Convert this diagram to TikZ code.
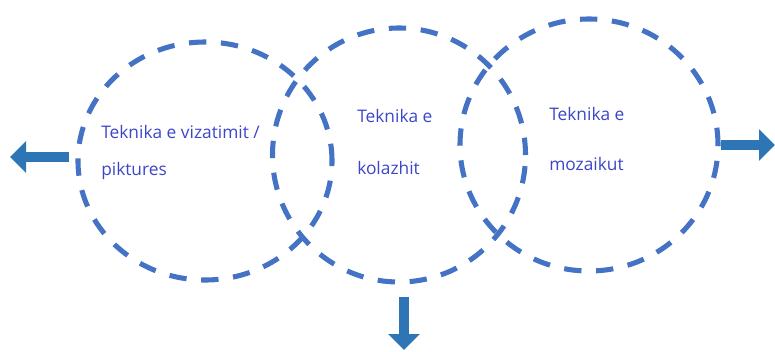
\documentclass[tikz,border=0pt]{standalone}
\usepackage{fontspec}
\setmainfont{Open Sans}
\usetikzlibrary{shapes.geometric,arrows.meta}
\definecolor{ringblue}{RGB}{68,114,196}
\definecolor{arrowblue}{RGB}{46,117,182}
\definecolor{textblue}{RGB}{60,70,200}
\begin{document}
\begin{tikzpicture}[x=0.75pt,y=-0.75pt,line join=round,
	ring/.style={ellipse,draw=ringblue,line width=3.8pt,dash pattern=on 13pt off 11pt,inner sep=0pt},
	lbl/.style={anchor=base west,inner sep=0pt,text=textblue,font=\fontsize{13}{15}\selectfont},
	bigarrow/.style={draw=arrowblue,line width=7.5pt,-{Triangle[width=23pt,length=12pt]}}]
			\useasboundingbox (0,0) rectangle (775,351);
			\node[ring,minimum width=190.5pt,minimum height=178.5pt] (vizatim) at (205,161) {};
			\node[ring,minimum width=189.75pt,minimum height=190.5pt] (kolazh) at (399,155) {};
			\node[ring,minimum width=193.5pt,minimum height=189pt] (mozaik) at (589,145) {};
			\node[lbl] (t1a) at (101,138) {Teknika e vizatimit /};
			\node[lbl] (t1b) at (101,175) {piktures};
			\node[lbl] (t2a) at (357,122) {Teknika e};
			\node[lbl] (t2b) at (357,174) {kolazhit};
			\node[lbl] (t3a) at (549,120) {Teknika e};
			\node[lbl] (t3b) at (549,170) {mozaikut};
			\coordinate (outleft) at (10,157);
			\coordinate (outright) at (775,145);
			\coordinate (outdown) at (404,350);
			\draw[bigarrow] (vizatim.west) ++(-6,-4) -- (outleft);
			\draw[bigarrow] (mozaik.east) -- (outright);
			\draw[bigarrow] (kolazh.south) ++(5,12) -- (outdown);
		\end{tikzpicture}
\end{document}
